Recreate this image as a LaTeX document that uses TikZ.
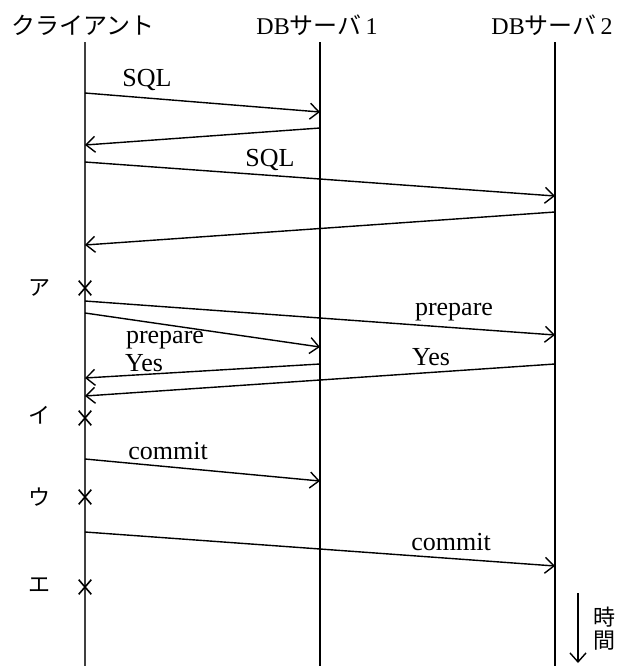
\documentclass[tikz,border=0pt]{standalone}
\usepackage{fontspec}
\setmainfont{Liberation Serif}
\newfontfamily\jp{Noto Sans CJK JP}
\usetikzlibrary{arrows.meta,shapes.misc}
\begin{document}
\begin{tikzpicture}[x=0.5pt,y=-0.5pt,
  life/.style={line width=0.75pt},
  msg/.style={line width=0.7pt,-{Straight Barb[length=4.5pt,width=8pt,line width=0.7pt]}},
  lbl/.style={font=\fontsize{13}{15}\selectfont,inner sep=0pt},
  head/.style={font=\fontsize{12}{14}\selectfont,inner sep=0pt},
  kana/.style={font=\jp\fontsize{11}{13}\selectfont,inner sep=0pt},
  xmark/.style={cross out,draw,minimum width=5.5pt,minimum height=6.5pt,inner sep=0pt,line width=0.8pt}]
\useasboundingbox (0,0) rectangle (622,666);
% headers
\node[head] (hc) at (83,25) {\jp クライアント};
\node[head] (h1) at (317,25) {DB{\jp サーバ}\,1};
\node[head] (h2) at (552,25) {DB{\jp サーバ}\,2};
% lifelines
\coordinate (cT) at (85,42);  \coordinate (cB) at (85,666);
\coordinate (aT) at (320,42); \coordinate (aB) at (320,666);
\coordinate (bT) at (555,42); \coordinate (bB) at (555,666);
\draw[life,draw=black!75,line width=0.9pt] (cT) -- (cB);
\draw[life] (aT) -- (aB);
\draw[life,line width=1pt] (bT) -- (bB);
% message end points
\coordinate (s1a) at (85,93);   \coordinate (s1b) at (320,112);
\coordinate (r1a) at (320,128); \coordinate (r1b) at (85,145);
\coordinate (s2a) at (85,162);  \coordinate (s2b) at (555,196);
\coordinate (r2a) at (555,212); \coordinate (r2b) at (85,245);
\coordinate (p2a) at (85,301);  \coordinate (p2b) at (555,335);
\coordinate (p1a) at (85,313);  \coordinate (p1b) at (320,347);
\coordinate (y1a) at (320,364); \coordinate (y1b) at (85,378);
\coordinate (y2a) at (555,364); \coordinate (y2b) at (85,396);
\coordinate (c1a) at (85,459);  \coordinate (c1b) at (320,481);
\coordinate (c2a) at (85,532);  \coordinate (c2b) at (555,566);
% messages
\draw[msg] (s1a) -- (s1b);
\draw[msg] (r1a) -- (r1b);
\draw[msg] (s2a) -- (s2b);
\draw[msg] (r2a) -- (r2b);
\draw[msg] (p2a) -- (p2b);
\draw[msg] (p1a) -- (p1b);
\draw[msg] (y1a) -- (y1b);
\draw[msg] (y2a) -- (y2b);
\draw[msg] (c1a) -- (c1b);
\draw[msg] (c2a) -- (c2b);
% labels
\node[lbl] (l1) at (147,80) {SQL};
\node[lbl] (l2) at (270,160) {SQL};
\node[lbl] (l3) at (454,312) {prepare};
\node[lbl] (l4) at (165,340) {prepare};
\node[lbl] (l5) at (144,363) {Yes};
\node[lbl] (l6) at (431,357) {Yes};
\node[lbl] (l7) at (168,451) {commit};
\node[lbl] (l8) at (451,542) {commit};
% marks
\node[xmark] (xa) at (85,288) {};
\node[xmark] (xi) at (85,418) {};
\node[xmark] (xu) at (85,497) {};
\node[xmark] (xe) at (85,587) {};
\node[kana] (ka) at (40,288) {ア};
\node[kana] (ki) at (40,415) {イ};
\node[kana] (ku) at (40,497) {ウ};
\node[kana] (ke) at (40,585) {エ};
% time arrow
\coordinate (tT) at (578,593); \coordinate (tB) at (578,663);
\draw[msg] (tT) -- (tB);
\node[kana] (t1) at (605,617) {時};
\node[kana] (t2) at (605,641) {間};
\end{tikzpicture}
\end{document}
